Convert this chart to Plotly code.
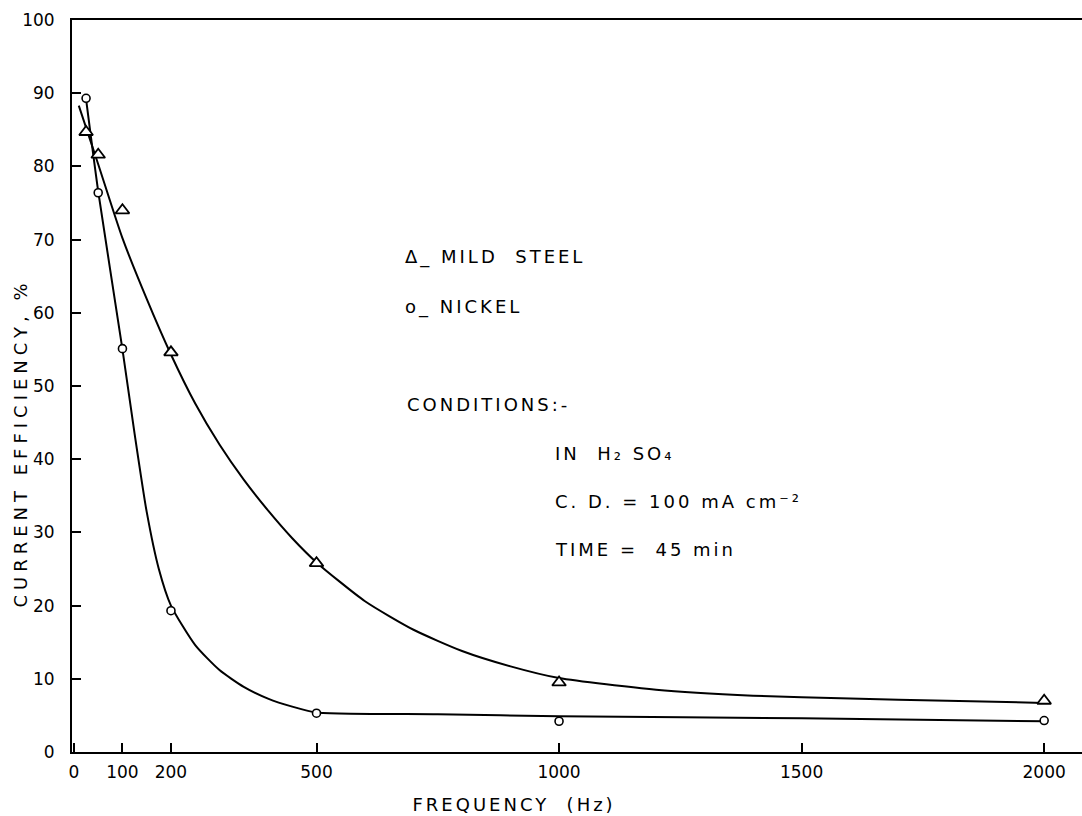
import plotly.graph_objects as go

# ---- data ----
freq = [25, 50, 100, 200, 500, 1000, 2000]
mild_steel = [84.7, 81.6, 74.0, 54.6, 25.8, 9.5, 7.0]
nickel = [89.3, 76.4, 55.1, 19.3, 5.3, 4.2, 4.3]

# hand-drawn smooth curves (traced along the drawn lines of the picture)
steel_curve_x = [10, 50, 100, 150, 200, 250, 300, 350, 400, 450, 500, 600, 700, 800, 900,
                 1000, 1200, 1400, 1600, 1800, 2000]
steel_curve_y = [88.3, 80.3, 70.2, 61.9, 54.3, 47.6, 42.0, 37.2, 33.0, 29.2, 25.9, 20.6, 16.7,
                 13.8, 11.7, 10.1, 8.5, 7.7, 7.3, 7.0, 6.7]
nickel_curve_x = [25, 50, 100, 125, 150, 175, 200, 250, 300, 350, 400, 450, 500, 750, 1000,
                  1500, 2000]
nickel_curve_y = [89.2, 76.6, 55.0, 43.5, 32.8, 25.0, 20.0, 14.6, 11.2, 8.9, 7.3, 6.2, 5.4,
                  5.15, 4.9, 4.6, 4.2]

x_tickvals = [0, 100, 200, 500, 1000, 1500, 2000]
x_ticktext = ["0", "100", "200", "500", "1000", "1500", "2000"]
y_tickvals = [0, 10, 20, 30, 40, 50, 60, 70, 80, 90, 100]
y_ticktext = [str(v) for v in y_tickvals]

FONT = "DejaVu Sans"
INK = "black"

fig = go.Figure()
fig.add_trace(go.Scatter(x=steel_curve_x, y=steel_curve_y, mode="lines",
                         line=dict(color=INK, width=2, shape="spline", smoothing=0.6),
                         showlegend=False, hoverinfo="skip"))
fig.add_trace(go.Scatter(x=nickel_curve_x, y=nickel_curve_y, mode="lines",
                         line=dict(color=INK, width=2, shape="spline", smoothing=0.6),
                         showlegend=False, hoverinfo="skip"))
fig.add_trace(go.Scatter(x=freq, y=mild_steel, mode="markers", name="MILD STEEL",
                         marker=dict(symbol="triangle-up", size=12, color="white",
                                     line=dict(color=INK, width=1.8)),
                         showlegend=False))
fig.add_trace(go.Scatter(x=freq, y=nickel, mode="markers", name="NICKEL",
                         marker=dict(symbol="circle", size=8, color="white",
                                     line=dict(color=INK, width=1.6)),
                         showlegend=False))

ann_font = dict(family=FONT, size=18, color=INK)
notes = [
    (0.3277, 0.676, "\u0394_ MILD\u00a0\u00a0STEEL"),
    (0.3277, 0.608, "o_ NICKEL"),
    (0.3297, 0.475, "CONDITIONS:-"),
    (0.4762, 0.408, "IN\u00a0\u00a0H\u2082 SO\u2084"),
    (0.4762, 0.342, "C. D. = 100 mA cm\u207b\u00b2"),
    (0.4762, 0.277, "TIME = \u00a045 min"),
]
for nx, ny, txt in notes:
    fig.add_annotation(x=nx, y=ny, xref="paper", yref="paper", text=txt, showarrow=False,
                       xanchor="left", yanchor="middle", align="left", font=ann_font)

fig.add_annotation(x=0.438, y=-0.072, xref="paper", yref="paper",
                   text="FREQUENCY\u00a0\u00a0(Hz)", showarrow=False,
                   xanchor="center", yanchor="middle", font=ann_font)
fig.add_annotation(x=-0.0515, y=0.422, xref="paper", yref="paper",
                   text="CURRENT EFFICIENCY, %", textangle=-90, showarrow=False,
                   xanchor="center", yanchor="middle", font=ann_font)

fig.update_xaxes(range=[-4, 2078], tickmode="array", tickvals=x_tickvals, ticktext=x_ticktext,
                 ticks="inside", ticklen=9, tickwidth=1.5, tickcolor=INK,
                 showline=True, linecolor=INK, linewidth=2, mirror=True,
                 showgrid=False, zeroline=False, ticklabelstandoff=4,
                 tickfont=dict(family=FONT, size=17, color=INK))
fig.update_yaxes(range=[0, 100], tickmode="array", tickvals=y_tickvals, ticktext=y_ticktext,
                 ticks="inside", ticklen=9, tickwidth=1.5, tickcolor=INK,
                 showline=True, linecolor=INK, linewidth=2, mirror=False,
                 showgrid=False, zeroline=False, ticklabelstandoff=12,
                 tickfont=dict(family=FONT, size=17, color=INK))

fig.update_layout(width=1082, height=816,
                  margin=dict(l=72, r=0, t=20, b=64),
                  paper_bgcolor="white", plot_bgcolor="white",
                  font=dict(family=FONT, size=17, color=INK))

post = """
(function(){
  document.body.style.margin = '0';
  var gd = document.getElementById('{plot_id}');
  function apply(){
    gd.querySelectorAll('.annotation-text').forEach(function(t){
      var s = t.textContent.indexOf('EFFICIENCY') >= 0 ? '5px' : '3px';
      t.style.letterSpacing = s;
    });
  }
  apply();
  if (gd.on) { gd.on('plotly_afterplot', apply); }
})();
"""
fig.write_html("out.html", post_script=post, config={"displayModeBar": False})
